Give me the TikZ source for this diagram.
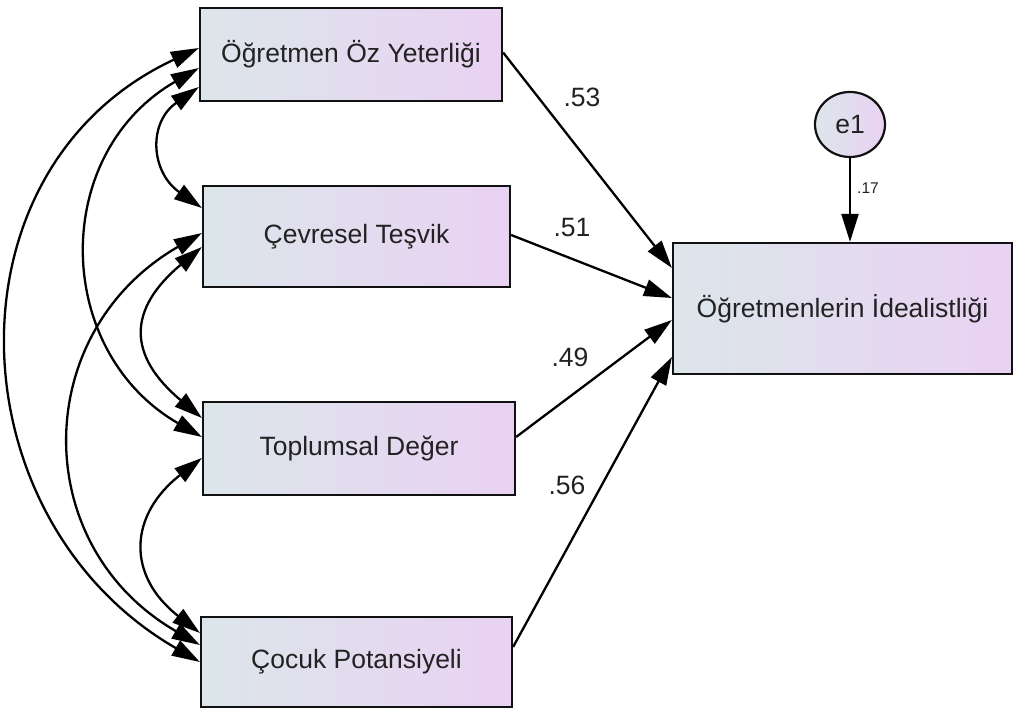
\documentclass[tikz,border=0pt]{standalone}
\usepackage{fontspec}
\setmainfont{Liberation Sans}
\usetikzlibrary{arrows.meta,shapes.geometric}
\definecolor{boxleft}{HTML}{DCE6EA}
\definecolor{boxright}{HTML}{E9D2F3}
\definecolor{edge}{HTML}{111111}
\definecolor{ink}{HTML}{222222}

\begin{document}
\begin{tikzpicture}[
            x=1pt,y=1pt,
            every node/.style={font=\fontsize{26.5}{31}\selectfont,text=ink},
            varbox/.style={rectangle,draw=edge,line width=2.2pt,inner sep=0pt,
                left color=boxleft,right color=boxright},
            errnode/.style={ellipse,draw=edge,line width=2.2pt,inner sep=0pt,
                left color=boxleft,right color=boxright,
                minimum width=70pt,minimum height=65pt},
            regpath/.style={draw=black,line width=2.3pt,-{Triangle[length=28pt,width=17pt]}},
            covpath/.style={draw=black,line width=2.3pt,
                {Triangle[length=28pt,width=17pt]}-{Triangle[length=28pt,width=17pt]}},
            coef/.style={inner sep=0pt}
        ]
            \useasboundingbox (0,0) rectangle (1014,709);
            \node[varbox,minimum width=302pt,minimum height=93pt] (oz) at (351,654.5) {Öğretmen Öz Yeterliği};
            \node[varbox,minimum width=307pt,minimum height=101pt] (cevre) at (356.5,472.5) {Çevresel Teşvik};
            \node[varbox,minimum width=312pt,minimum height=93pt] (toplum) at (359,260.5) {Toplumsal Değer};
            \node[varbox,minimum width=311pt,minimum height=90pt] (cocuk) at (356.5,47) {Çocuk Potansiyeli};
            \node[varbox,minimum width=339pt,minimum height=131pt] (ideal) at (842.5,400.5) {Öğretmenlerin İdealistliği};
            \node[errnode] (e1) at (850,584.5) {e1};

            \draw[regpath] ([yshift=2pt]oz.east) -- ([yshift=40.5pt]ideal.west);
            \draw[regpath] ([yshift=1.5pt]cevre.east) -- ([yshift=10.5pt]ideal.west);
            \draw[regpath] ([yshift=11.5pt]toplum.east) -- ([yshift=-11.5pt]ideal.west);
            \draw[regpath] ([yshift=15pt]cocuk.east) -- ([yshift=-48.5pt]ideal.west);
            \draw[regpath] (e1.south) -- (e1.south |- ideal.north);

            \node[coef] (c53) at (582,612) {.53};
            \node[coef] (c51) at (572,481) {.51};
            \node[coef] (c49) at (570,352) {.49};
            \node[coef] (c56) at (567,224) {.56};
            \node[coef,font=\fontsize{15.5}{18}\selectfont] (c17) at (868,521) {.17};

            \draw[covpath] ([yshift=-32.5pt]oz.west)
                to [out=215,in=145,looseness=1.32] ([yshift=28.5pt]cevre.west);
            \draw[covpath] ([yshift=-10.5pt]cevre.west)
                to [out=220,in=140,looseness=1.46] ([yshift=30.5pt]toplum.west);
            \draw[covpath] ([yshift=-9.5pt]toplum.west)
                to [out=218,in=142,looseness=1.36] ([yshift=29pt]cocuk.west);
            \draw[covpath] ([yshift=-13.5pt]oz.west)
                to [out=210,in=150,looseness=1.19] ([yshift=11.5pt]toplum.west);
            \draw[covpath] ([yshift=3.5pt]cevre.west)
                to [out=210,in=150,looseness=1.23] ([yshift=17pt]cocuk.west);
            \draw[covpath] ([yshift=6.5pt]oz.west)
                to [out=205,in=150,looseness=1.19] (cocuk.west);
        \end{tikzpicture}
\end{document}
